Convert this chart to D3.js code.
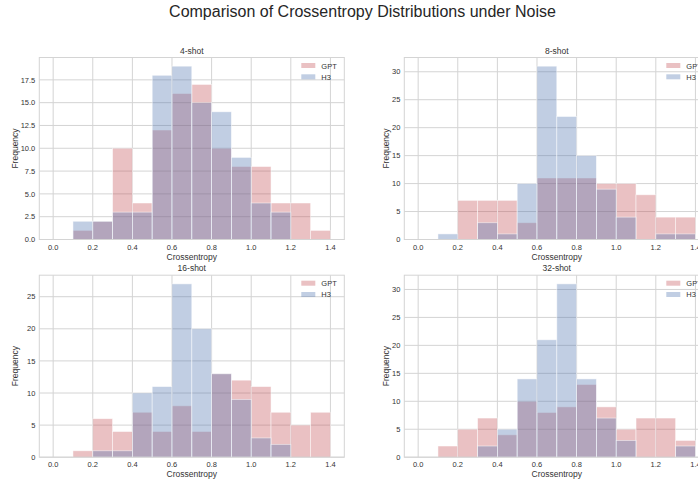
<!DOCTYPE html>
<html>
<head>
<meta charset="utf-8">
<script src="https://cdn.jsdelivr.net/npm/d3@7"></script>
<style>
  body { margin: 0; background: #fff; overflow: hidden; }
  svg { display: block; font-family: "Liberation Sans", Arial, sans-serif; }
</style>
</head>
<body>
<div id="chart"></div>
<script>
// bin edges of the histograms (width 0.1)
var binEdges = [0.0, 0.1, 0.2, 0.3, 0.4, 0.5, 0.6, 0.7, 0.8, 0.9, 1.0, 1.1, 1.2, 1.3, 1.4];
var panelNames = ["4-shot", "8-shot", "16-shot", "32-shot"];
var seriesNames = ["GPT", "H3"];

// counts per bin
var gpt4  = [0, 1, 2, 10, 4, 12, 16, 17, 10, 8, 8, 4, 4, 1];
var h3_4  = [0, 2, 2, 3, 3, 18, 19, 15, 14, 9, 4, 3, 0, 0];
var gpt8  = [0, 0, 7, 7, 7, 3, 11, 11, 11, 10, 10, 8, 4, 4];
var h3_8  = [0, 1, 0, 3, 1, 10, 31, 22, 15, 9, 4, 0, 1, 1];
var gpt16 = [0, 1, 6, 4, 7, 4, 8, 4, 13, 12, 11, 7, 5, 7];
var h3_16 = [0, 0, 1, 1, 10, 11, 27, 20, 13, 9, 3, 2, 0, 0];
var gpt32 = [0, 2, 5, 7, 4, 10, 8, 9, 13, 9, 5, 7, 7, 3];
var h3_32 = [0, 0, 0, 2, 5, 14, 21, 31, 14, 7, 3, 0, 0, 2];

var xTicks = [0.0, 0.2, 0.4, 0.6, 0.8, 1.0, 1.2, 1.4];
var yTicks4  = [0, 2.5, 5, 7.5, 10, 12.5, 15, 17.5];
var yTicks8  = [0, 5, 10, 15, 20, 25, 30];
var yTicks16 = [0, 5, 10, 15, 20, 25];
var yTicks32 = [0, 5, 10, 15, 20, 25, 30];

var panels = [
  {name: panelNames[0], gpt: gpt4,  h3: h3_4,  ticks: yTicks4,  fmt: d3.format(".1f")},
  {name: panelNames[1], gpt: gpt8,  h3: h3_8,  ticks: yTicks8,  fmt: d3.format("d")},
  {name: panelNames[2], gpt: gpt16, h3: h3_16, ticks: yTicks16, fmt: d3.format("d")},
  {name: panelNames[3], gpt: gpt32, h3: h3_32, ticks: yTicks32, fmt: d3.format("d")}
];

var width = 698, height = 481;
var colors = {GPT: "#c44e52", H3: "#4c72b0"};
var alpha = 0.35;
var gridColor = "#d4d4d4";
var textColor = "#333";

var svg = d3.select("#chart").append("svg")
  .attr("width", width)
  .attr("height", height);

svg.append("text")
  .attr("x", 362.5)
  .attr("y", 17)
  .attr("text-anchor", "middle")
  .style("font-size", "16px")
  .style("fill", "#262626")
  .text("Comparison of Crossentropy Distributions under Noise");

// axes boxes (left, top) of the 2x2 grid
var pw = 305, ph = 182;
var lefts = [39.3, 404.3];
var tops = [57.5, 275.2];

panels.forEach(function(p, k){
  var left = lefts[k % 2], top = tops[Math.floor(k / 2)];
  var g = svg.append("g").attr("transform", "translate(" + left + "," + top + ")");

  var ymax = d3.max(p.gpt.concat(p.h3)) * 1.05;
  var x = d3.scaleLinear().domain([-0.07, 1.47]).range([0, pw]);
  var y = d3.scaleLinear().domain([0, ymax]).range([ph, 0]);

  // grid
  g.selectAll(".vg").data(xTicks).enter().append("line")
    .attr("x1", function(d){ return x(d); })
    .attr("x2", function(d){ return x(d); })
    .attr("y1", 0).attr("y2", ph)
    .attr("stroke", gridColor).attr("stroke-width", 1);
  g.selectAll(".hg").data(p.ticks).enter().append("line")
    .attr("x1", 0).attr("x2", pw)
    .attr("y1", function(d){ return y(d); })
    .attr("y2", function(d){ return y(d); })
    .attr("stroke", gridColor).attr("stroke-width", 1);

  // bars: GPT first, then H3 on top
  [["GPT", p.gpt], ["H3", p.h3]].forEach(function(s){
    g.append("g").selectAll("rect")
      .data(s[1].map(function(v, i){ return {x0: binEdges[i], x1: binEdges[i + 1], v: v}; })
        .filter(function(d){ return d.v > 0; }))
      .enter().append("rect")
      .attr("x", function(d){ return x(d.x0); })
      .attr("width", function(d){ return x(d.x1) - x(d.x0); })
      .attr("y", function(d){ return y(d.v); })
      .attr("height", function(d){ return y(0) - y(d.v); })
      .attr("fill", colors[s[0]])
      .attr("fill-opacity", alpha)
      .attr("stroke", "#fff")
      .attr("stroke-opacity", 0.6)
      .attr("stroke-width", 0.8);
  });

  // frame
  g.append("rect")
    .attr("width", pw).attr("height", ph)
    .attr("fill", "none")
    .attr("stroke", gridColor).attr("stroke-width", 1);

  // tick labels
  g.selectAll(".xt").data(xTicks).enter().append("text")
    .attr("x", function(d){ return x(d); })
    .attr("y", ph + 10)
    .attr("text-anchor", "middle")
    .style("font-size", "7.5px").style("fill", textColor)
    .text(function(d){ return d3.format(".1f")(d); });
  g.selectAll(".yt").data(p.ticks).enter().append("text")
    .attr("x", -4)
    .attr("y", function(d){ return y(d) + 2.7; })
    .attr("text-anchor", "end")
    .style("font-size", "7.5px").style("fill", textColor)
    .text(function(d){ return p.fmt(d); });

  // axis labels and title
  g.append("text")
    .attr("x", pw / 2).attr("y", ph + 20)
    .attr("text-anchor", "middle")
    .style("font-size", "8.5px").style("fill", textColor)
    .text("Crossentropy");
  var labelX = (k % 2 === 0) ? -21.5 : -15.5;
  g.append("text")
    .attr("transform", "translate(" + labelX + "," + (ph / 2) + ") rotate(-90)")
    .attr("text-anchor", "middle")
    .style("font-size", "8.5px").style("fill", textColor)
    .text("Frequency");
  g.append("text")
    .attr("x", pw / 2).attr("y", -4)
    .attr("text-anchor", "middle")
    .style("font-size", "8.5px").style("fill", textColor)
    .text(p.name);

  // legend
  seriesNames.forEach(function(n, i){
    g.append("rect")
      .attr("x", 262).attr("y", 5.5 + i * 11.3)
      .attr("width", 14).attr("height", 5)
      .attr("fill", colors[n]).attr("fill-opacity", alpha);
    g.append("text")
      .attr("x", 282).attr("y", 11 + i * 11.3)
      .style("font-size", "7.5px").style("fill", textColor)
      .text(n);
  });
});
</script>
</body>
</html>
